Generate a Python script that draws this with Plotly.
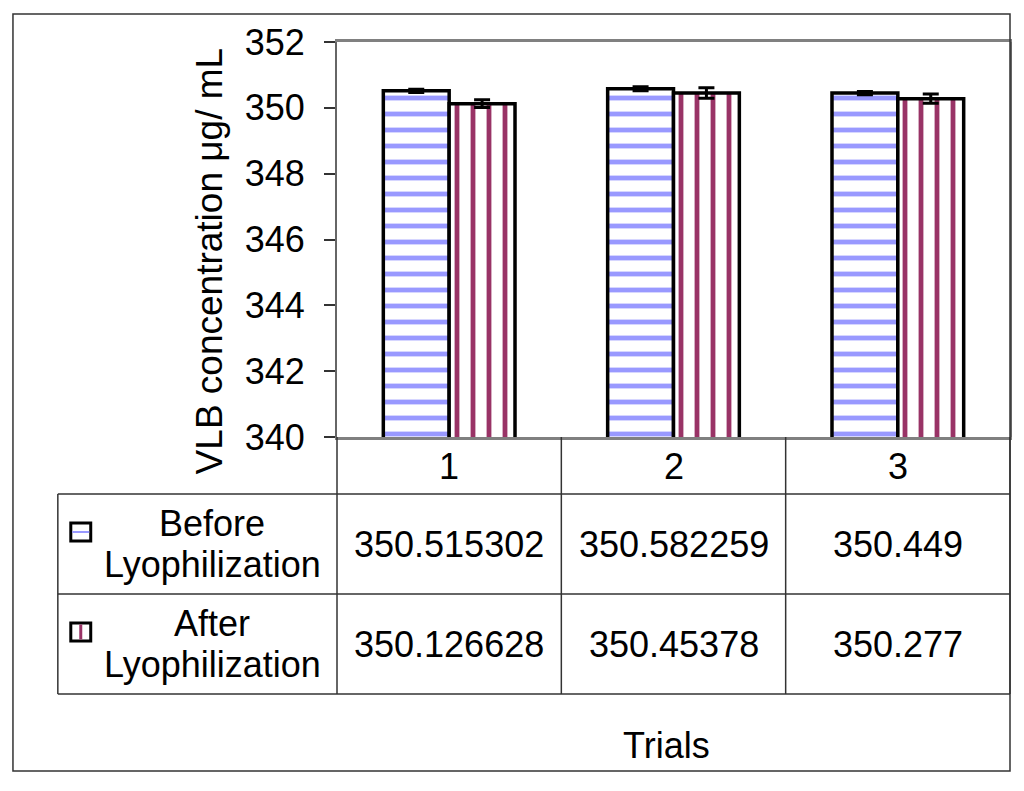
import plotly.graph_objects as go

# data
trials = ["1", "2", "3"]
series_names = ["Before Lyophilization", "After Lyophilization"]
before = [350.515302, 350.582259, 350.449]
after = [350.126628, 350.45378, 350.277]
before_err = [0.05, 0.06, 0.05]
after_err = [0.12, 0.16, 0.14]
y_ticks = [340, 342, 344, 346, 348, 350, 352]

# the page body has an 8px margin, so the figure is laid out in screen px minus 8
OFF = 8
W, H = 1024 - OFF, 791 - OFF
L, R, T, B = 337 - OFF, 12, 42 - OFF, 354
PW, PH = W - L - R, H - T - B
FONT = "Liberation Sans, Arial, sans-serif"


def px(x):
    return (x - OFF - L) / PW


def py(y):
    return (H - B - (y - OFF)) / PH


fig = go.Figure()
fig.add_trace(go.Bar(
    x=trials, y=before, name=series_names[0],
    marker=dict(color="white", line=dict(color="black", width=3.5),
                pattern=dict(shape="-", fgcolor="#9999FF", bgcolor="white",
                             fgopacity=1, size=16, solidity=0.3)),
    error_y=dict(type="data", array=before_err, color="black", thickness=3, width=8),
))
fig.add_trace(go.Bar(
    x=trials, y=after, name=series_names[1],
    marker=dict(color="white", line=dict(color="black", width=3.5),
                pattern=dict(shape="|", fgcolor="#993366", bgcolor="white",
                             fgopacity=1, size=16, solidity=0.3)),
    error_y=dict(type="data", array=after_err, color="black", thickness=3, width=8),
))

shapes = []
line_c = "#333333"


def seg(x0, y0, x1, y1, w=1.5, c=line_c):
    shapes.append(dict(type="line", xref="paper", yref="paper",
                       x0=px(x0), y0=py(y0), x1=px(x1), y1=py(y1),
                       line=dict(color=c, width=w)))


# outer frame
shapes.append(dict(type="rect", xref="paper", yref="paper",
                   x0=px(12), y0=py(14), x1=px(1012), y1=py(771),
                   line=dict(color=line_c, width=1.5)))
# data table grid
col_edges = [337, 562, 787, 1012]
for xe in col_edges:
    seg(xe, 437, xe, 694)
for ye in [494, 594, 694]:
    seg(57, ye, 1012, ye)
seg(57, 494, 57, 694)

annotations = []


def text(x, y, s, xref="paper", size=36, angle=0):
    annotations.append(dict(
        x=x if xref != "paper" else px(x), y=py(y), xref=xref, yref="paper",
        text=s, showarrow=False, textangle=angle,
        font=dict(family=FONT, size=size, color="black"),
        xanchor="center", yanchor="middle"))


# header row: category labels
for i, t in enumerate(trials):
    text(i, 466, t, xref="x")

# rows: legend key + values
row_centers = [544, 644]
values = [before, after]
icon_colors = ["#9999FF", "#993366"]
cx = [(a + b) / 2 for a, b in zip(col_edges[:-1], col_edges[1:])]
for i, (name, yc) in enumerate(zip(series_names, row_centers)):
    first, second = name.split(" ", 1)
    text(212, yc - 21, first)
    text(212, yc + 20, second)
    # legend key
    shapes.append(dict(type="rect", xref="paper", yref="paper",
                       x0=px(70), y0=py(yc - 21), x1=px(90), y1=py(yc - 3),
                       fillcolor="white", line=dict(color="black", width=3)))
    if i == 0:
        seg(71.5, yc - 12, 88.5, yc - 12, w=2, c=icon_colors[i])
    else:
        seg(80, yc - 19.5, 80, yc - 4.5, w=3, c=icon_colors[i])
    for xc, v in zip(cx, values[i]):
        text(xc, yc, str(v))

# axis titles
text(667, 745, "Trials")
text(209, 261, "VLB concentration μg/ mL", size=37, angle=-90)

fig.update_layout(
    width=W, height=H,
    margin=dict(l=L, r=R, t=T, b=B),
    paper_bgcolor="white", plot_bgcolor="white",
    barmode="group", bargap=0.413, bargroupgap=0,
    showlegend=False,
    shapes=shapes, annotations=annotations,
    font=dict(family=FONT, size=36, color="black"),
    xaxis=dict(type="category", showticklabels=False, ticks="", showgrid=False,
               showline=True, linecolor="#808080", linewidth=3, mirror=True,
               range=[-0.5, 2.5], fixedrange=True),
    yaxis=dict(range=[340, 352], tickvals=y_ticks, ticks="outside", ticklen=11,
               tickwidth=1.5, tickcolor=line_c, showgrid=False, showline=True,
               linecolor="#666666", linewidth=2, mirror=True, zeroline=False,
               ticklabelstandoff=12,
               tickfont=dict(family=FONT, size=36, color="black")),
)

fig.write_html("out.html")
